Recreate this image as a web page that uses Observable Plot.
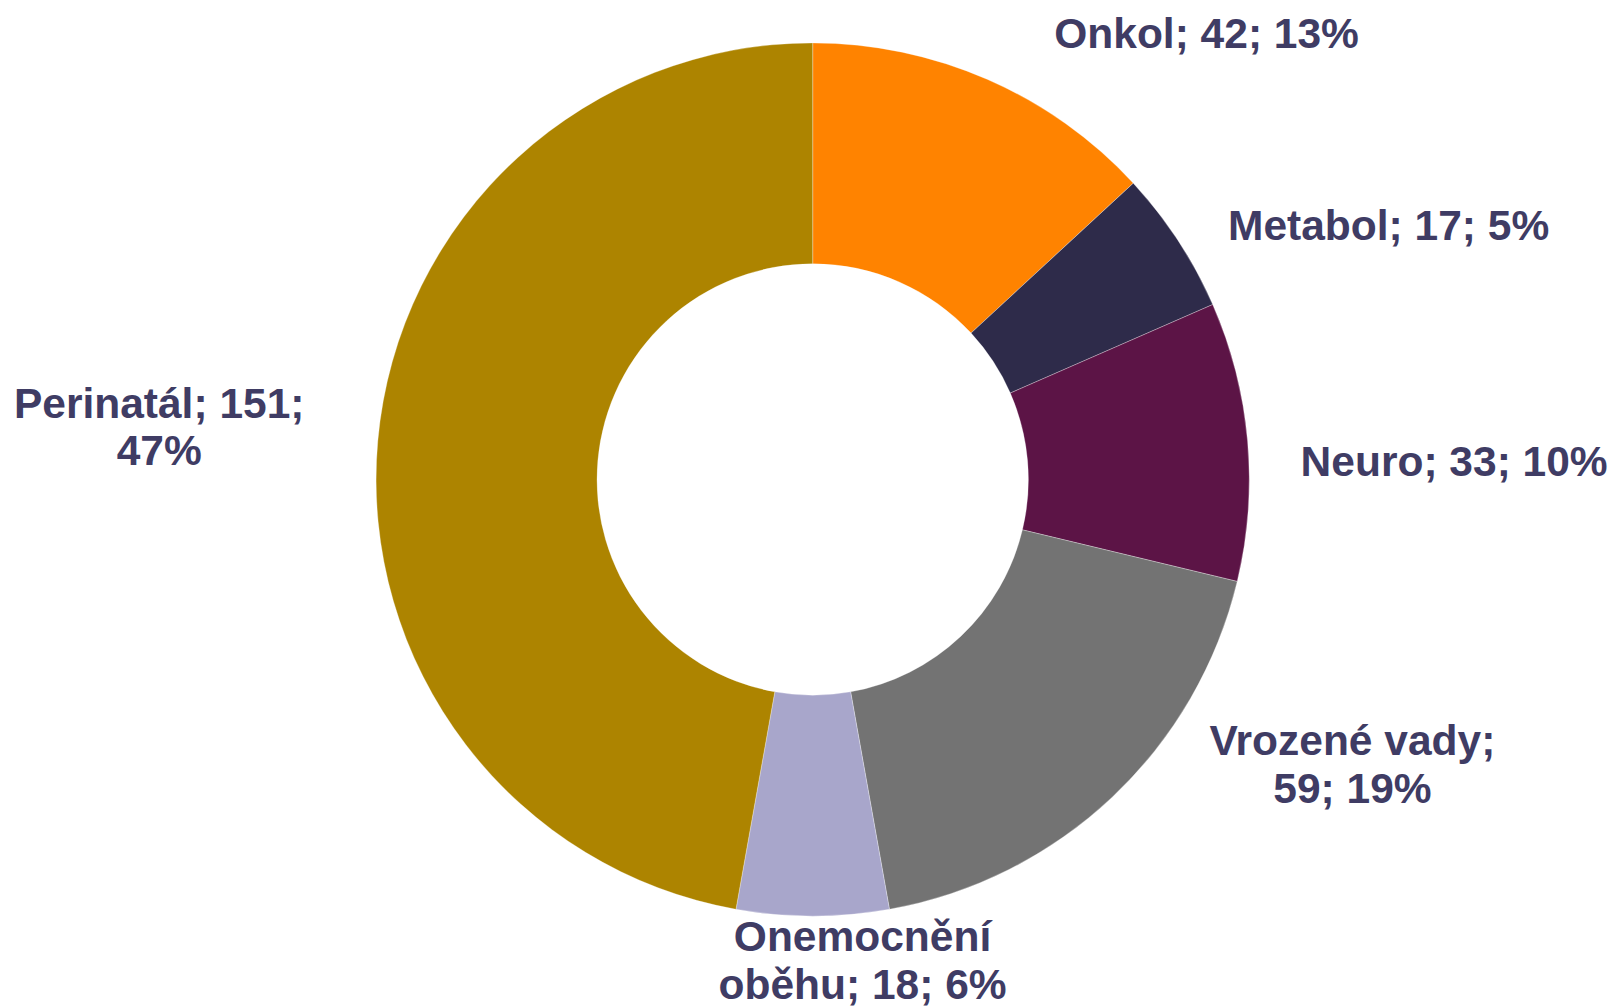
<!DOCTYPE html>
<html><head><meta charset="utf-8">
<script src="https://cdn.jsdelivr.net/npm/d3@7"></script>
<script src="https://cdn.jsdelivr.net/npm/@observablehq/plot@0.6"></script>
<style>html,body{margin:0;padding:0;background:#fff;} #chart svg{display:block;}</style>
</head><body><div id="chart"></div>
<script>
// ---- data ----
const categories = ["Onkol", "Metabol", "Neuro", "Vrozené vady", "Onemocnění oběhu", "Perinatál"];
const counts = [42, 17, 33, 59, 18, 151];
const percents = [13, 5, 10, 19, 6, 47];
const colors = ["#FF8300", "#2E2B4A", "#5C1446", "#737373", "#A8A6CB", "#AD8400"];

// ---- layout (chart units: outer radius = 1, centre = 0,0) ----
const labelAt = [[0.901, 1.025], [1.318, 0.584], [1.468, 0.045], [1.235, -0.650], [0.113, -1.099], [-1.498, 0.123]];
const wrapAfter = [0, 0, 0, 2, 1, 2];
const W = 1613, H = 1006, cx = 812.7, cy = 479.5, R = 436.6, innerRatio = 0.494;

const data = categories.map((c, i) => ({category: c, count: counts[i], pct: percents[i], i}));
const pie = d3.pie().value(d => d.count).sort(null)(data);

function labelText(d) {
  const words = `${d.category}; ${d.count}; ${d.pct}%`.split(" ");
  const k = wrapAfter[d.i];
  if (!k) return words.join(" ");
  return words.slice(0, k).join(" ") + "\n" + words.slice(k).join(" ");
}

function donut(index, scales) {
  const x0 = scales.x(0), y0 = scales.y(0);
  const r = scales.x(1) - x0;
  const arc = d3.arc().innerRadius(r * innerRatio).outerRadius(r);
  const g = d3.create("svg:g").attr("transform", `translate(${x0},${y0})`);
  g.selectAll("path").data(pie).join("path")
    .attr("d", arc)
    .attr("fill", d => scales.color ? scales.color(d.data.category) : colors[d.data.i])
    .attr("stroke", "#ffffff").attr("stroke-width", 0.5).attr("stroke-opacity", 0.6);
  return g.node();
}

const chart = Plot.plot({
  width: W, height: H,
  margin: 0,
  x: {domain: [-cx / R, (W - cx) / R], axis: null},
  y: {domain: [-(H - cy) / R, cy / R], axis: null},
  color: {domain: categories, range: colors},
  style: {background: "#ffffff"},
  marks: [
    donut,
    Plot.text(data, {
      x: d => labelAt[d.i][0],
      y: d => labelAt[d.i][1],
      text: labelText,
      fill: "#3F3C64",
      fontSize: 42.5,
      fontWeight: "bold",
      fontFamily: "'Liberation Sans', Arial, sans-serif",
      lineHeight: 1.12,
      textAnchor: "middle",
      lineAnchor: "middle"
    })
  ]
});
document.getElementById("chart").append(chart);
</script>
</body></html>
